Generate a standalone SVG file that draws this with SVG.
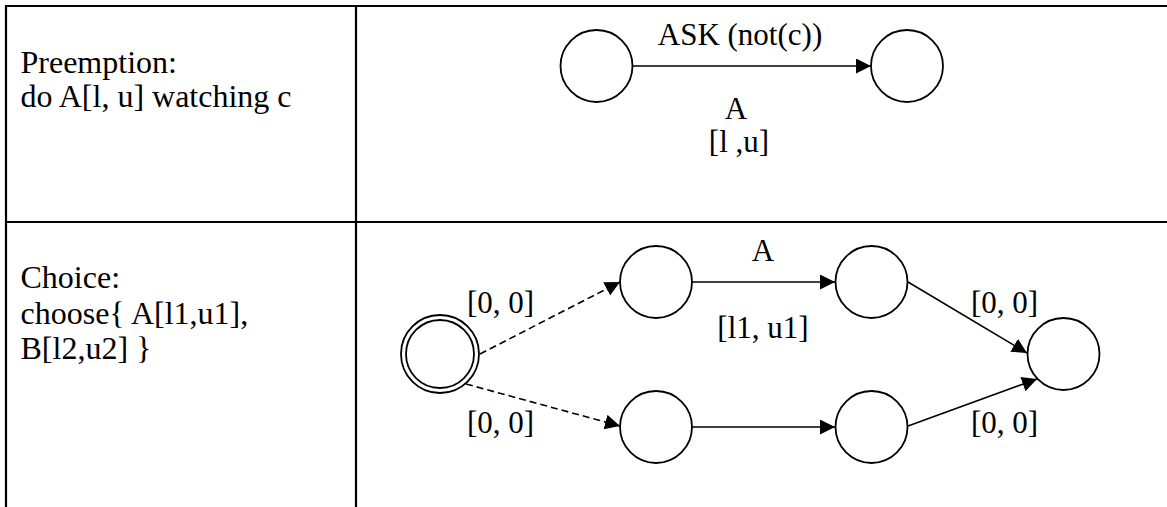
<svg xmlns="http://www.w3.org/2000/svg" width="1167" height="507" viewBox="0 0 1167 507">
<style>
.grid{stroke:#000;stroke-width:2.2;fill:none}
.node{fill:#fff;stroke:#000;stroke-width:1.8}
.edge{stroke:#000;stroke-width:1.6;fill:none;marker-end:url(#arr)}
.dash{stroke-dasharray:7 4}
text{font-family:"Liberation Serif","Times New Roman",serif;font-size:31px;fill:#000}
.l{font-size:32px}
.c{text-anchor:middle}
</style>
<defs>
<marker id="arr" markerUnits="userSpaceOnUse" markerWidth="16" markerHeight="16" refX="15" refY="7.5" orient="auto">
<path d="M0,0 L15,7.5 L0,15 z" fill="#000"/>
</marker>
</defs>
<rect width="1167" height="507" fill="#fff"/>
<g id="table" class="grid">
<line x1="5" y1="6" x2="1167" y2="6"/>
<line x1="5" y1="222" x2="1167" y2="222"/>
<line x1="6" y1="5" x2="6" y2="507"/>
<line x1="356" y1="5" x2="356" y2="507"/>
</g>
<g id="row-labels">
<text class="l" x="20.5" y="72.5">Preemption:</text>
<text class="l" x="20.5" y="107">do A[l, u] watching c</text>
<text class="l" x="20.5" y="288">Choice:</text>
<text class="l" x="20.5" y="323.5">choose{ A[l1,u1],</text>
<text class="l" x="20.5" y="359">B[l2,u2] }</text>
</g>
<g id="connectors">
<line class="edge" x1="632" y1="66" x2="871" y2="66"/>
<line class="edge dash" x1="480" y1="354" x2="620" y2="282"/>
<line class="edge dash" x1="466" y1="384" x2="620" y2="426"/>
<line class="edge" x1="692" y1="282" x2="835" y2="282"/>
<line class="edge" x1="692" y1="427" x2="835" y2="427"/>
<line class="edge" x1="908" y1="282" x2="1027" y2="353"/>
<line class="edge" x1="908" y1="426" x2="1037" y2="379"/>
</g>
<g id="edge-labels">
<text class="c" x="740" y="45">ASK (not(c))</text>
<text class="c" x="736" y="119">A</text>
<text class="c" x="739" y="152">[l ,u]</text>
<text class="c" x="763" y="261">A</text>
<text class="c" x="763" y="338">[l1, u1]</text>
<text x="467" y="313">[0, 0]</text>
<text x="467" y="433">[0, 0]</text>
<text x="971" y="313">[0, 0]</text>
<text x="971" y="433">[0, 0]</text>
</g>
<g id="p1"><circle class="node" cx="596.5" cy="66" r="36"/></g>
<g id="p2"><circle class="node" cx="907" cy="66" r="36"/></g>
<g id="start"><circle class="node" cx="440" cy="354" r="39"/><circle class="node" cx="440" cy="354" r="34"/></g>
<g id="a1"><circle class="node" cx="656" cy="282" r="36"/></g>
<g id="a2"><circle class="node" cx="871.5" cy="282" r="36"/></g>
<g id="b1"><circle class="node" cx="656" cy="427" r="36"/></g>
<g id="b2"><circle class="node" cx="871.5" cy="427" r="36"/></g>
<g id="end"><circle class="node" cx="1063.5" cy="354" r="36"/></g>
</svg>
